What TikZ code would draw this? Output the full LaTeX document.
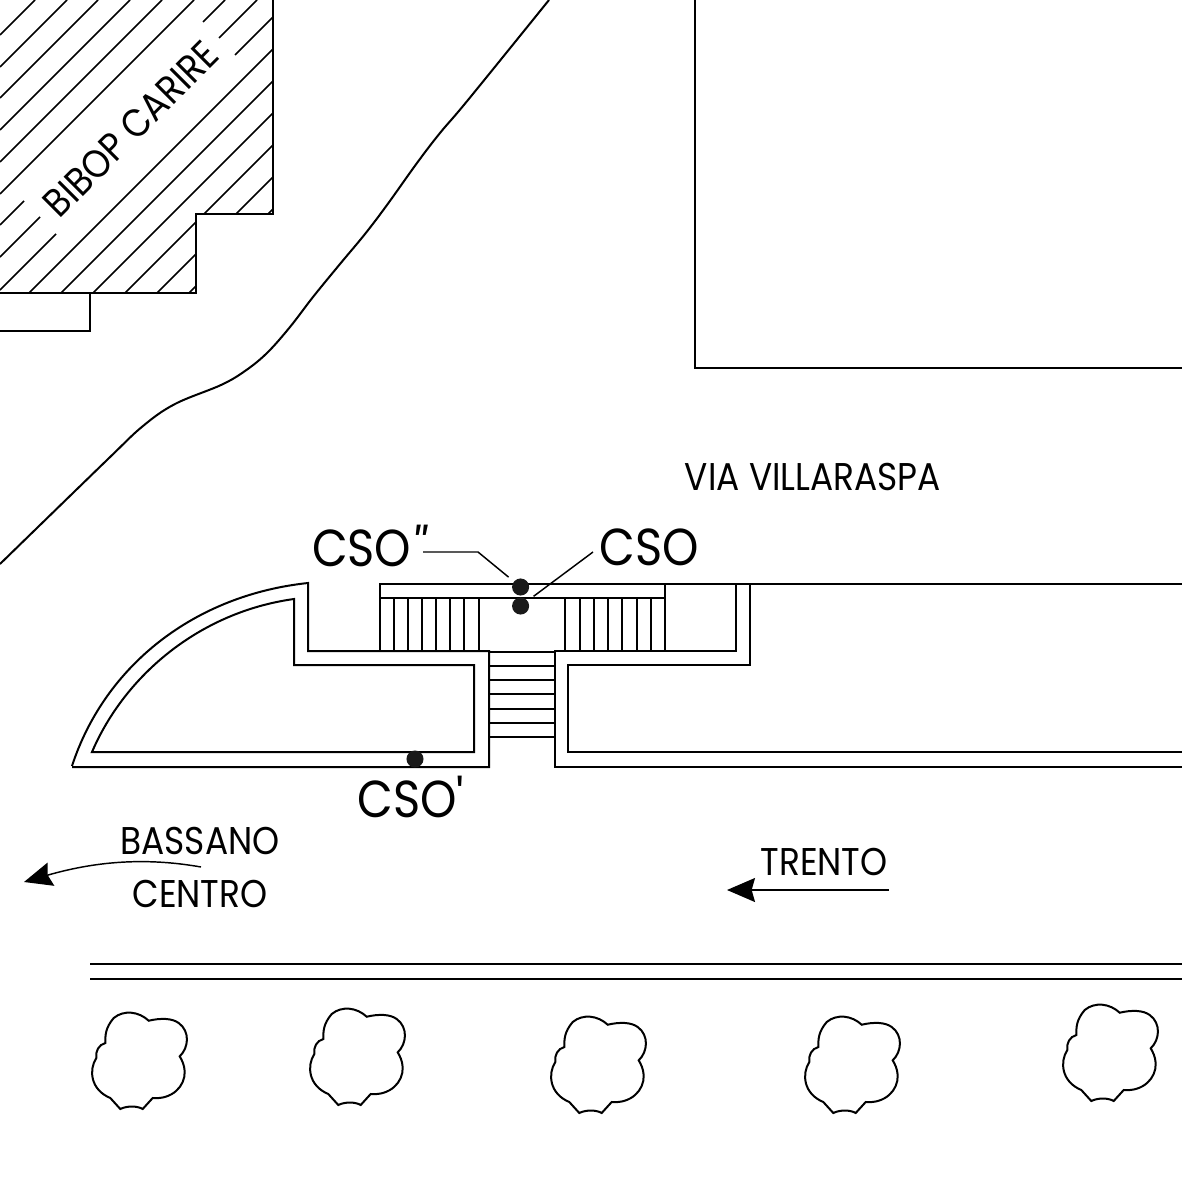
\documentclass[tikz,border=0pt]{standalone}
\usepackage{fontspec}
\usetikzlibrary{arrows.meta}
\newfontfamily\signfont[FakeStretch=0.89]{Poppins}

\tikzset{every picture/.style={line width=1.5pt}}
\tikzset{
  sign/.style={inner sep=0pt,font=\signfont\fontsize{29}{29}\selectfont},
  bigsign/.style={inner sep=0pt,font=\signfont\fontsize{39}{39}\selectfont},
  hatch/.style={line width=1.2pt},
  csodot/.style={circle,fill=black!90,inner sep=0pt,minimum size=12.8pt},
  leader/.style={line width=1.1pt},
  bush/.pic={
    \draw[yscale=-1] (56.7,7.7) .. controls (46.7,-1.7) and (31.7,-3.3) .. (21.7,5) .. controls (13.3,15) and (13.3,22) .. (13.3,30)
      .. controls (6.7,31.7) and (3.3,38.3) .. (4.3,45) .. controls (-3.3,56.7) and (-1.7,76.7) .. (18.3,85) -- (28.3,96)
      .. controls (35,92.7) and (45,92.7) .. (50.7,96) -- (60.7,85) .. controls (80,86.7) and (93.3,73.3) .. (92.7,58.3)
      .. controls (92.3,51.7) and (90,47.3) .. (87.7,43.3) .. controls (96.7,35) and (98.3,18.3) .. (86.7,10)
      .. controls (80,5) and (68.3,5) .. (56.7,7.7) -- cycle;
  }
}

\begin{document}
\begin{tikzpicture}[x=0.75pt,y=0.75pt,yscale=-1,xscale=1]
\useasboundingbox (0,0) rectangle (1182,1177);

%Hatching of the building
\begin{scope}[hatch]
\clip (0,0) -- (273,0) -- (273,214) -- (196,214) -- (196,293) -- (0,293) -- cycle;
\foreach \c in {35,67,98,130,162,194,322,354,386,418,450,482}
  \draw (0,\c) -- (\c,0);
\draw (0,225) -- (24,201);
\draw (203,22) -- (225,0);
\draw (0,257) -- (40,217);
\draw (219,38) -- (257,0);
\draw (0,290) -- (56,234);
\draw (235,55) -- (290,0);
\end{scope}
\draw (273,0) -- (273,214) -- (196,214) -- (196,293) -- (0,293);
\draw (90,293) -- (90,331) -- (0,331);

%Road edge
\draw plot[smooth,tension=0.6] coordinates {(0,564) (107,460) (143,426) (175,404) (221,385) (245,371) (267,353) (290,327) (313,297) (340,264) (365,234) (387,205) (417,163) (440,133) (468,100) (549,0)};

%Block at the top right
\draw (695,0) -- (695,368) -- (1182,368);

%Platform
\draw (380,651) -- (380,584) -- (1182,584);
\draw (380,598) -- (665,598);
\draw (72,766) .. controls (105,665) and (195,595) .. (308,583) -- (308,651) -- (489,651) -- (489,767) -- (72,767);
\draw (92,752) .. controls (125,675) and (200,612) .. (294,599) -- (294,665) -- (474,665) -- (474,752) -- cycle;
\draw (1182,767) -- (555,767) -- (555,651) -- (736,651) -- (736,584);
\draw (750,584) -- (750,665) -- (568,665) -- (568,752) -- (1182,752);

%Steps
\foreach \x in {394,408,422,436,450,464,479}
  \draw[hatch] (\x,598) -- (\x,651);
\foreach \x in {565,580,594,608,622,637,651}
  \draw[hatch] (\x,598) -- (\x,651);
\draw (665,584) -- (665,651);
\foreach \y in {652,666,680,694,709,723,737}
  \draw[hatch] (489,\y) -- (555,\y);

%Kerb
\draw (90,964) -- (1182,964);
\draw (90,979) -- (1182,979);

%Bushes
\pic at (92,1013) {bush};
\pic at (310,1009) {bush};
\pic at (551,1017) {bush};
\pic at (805,1017) {bush};
\pic at (1063,1005) {bush};

% Dots
\node [csodot] (dotA) at (520.6,606) {};
\node [csodot] (dotB) at (520.6,587) {};
\node [csodot] (dotC) at (415,759) {};

% Text Node
\node [sign,font=\signfont\fontsize{29.5}{29.5}\selectfont,rotate=45] (bibop) at (131,129) {BIBOP CARIRE};
\node [sign] (via) at (813,477) {VIA VILLARASPA};
\node [bigsign,anchor=west] (lblB) at (311,546) {CSO{\itshape ''}};
\node [bigsign] (lblA) at (649,547) {CSO};
\node [bigsign] (lblC) at (411,797) {CSO'};
\node [sign] (bassano) at (200,841) {BASSANO};
\node [sign] (centro) at (200,894) {CENTRO};
\node [sign] (trento) at (824,862) {TRENTO};

%Leaders
\coordinate (leadB) at (423,552);
\coordinate (bendB) at (478,552);
\coordinate (leadA) at (593,552);
\draw [leader,shorten >=4.5pt] (leadB) -- (bendB) -- (dotB);
\draw [leader,shorten >=5pt] (leadA) -- (dotA);

%Arrows
\coordinate (bassanoTail) at (201,867);
\coordinate (bassanoTip) at (24,882);
\coordinate (trentoTail) at (889,890);
\coordinate (trentoTip) at (727,890);
\draw [line width=1.1pt,-{Stealth[length=21pt,width=18pt,inset=2.5pt]}] (bassanoTail) .. controls (150,858) and (100,860) .. (bassanoTip);
\draw [line width=1.1pt,-{Stealth[length=21pt,width=18pt,inset=2.5pt]}] (trentoTail) -- (trentoTip);

\end{tikzpicture}
\end{document}
